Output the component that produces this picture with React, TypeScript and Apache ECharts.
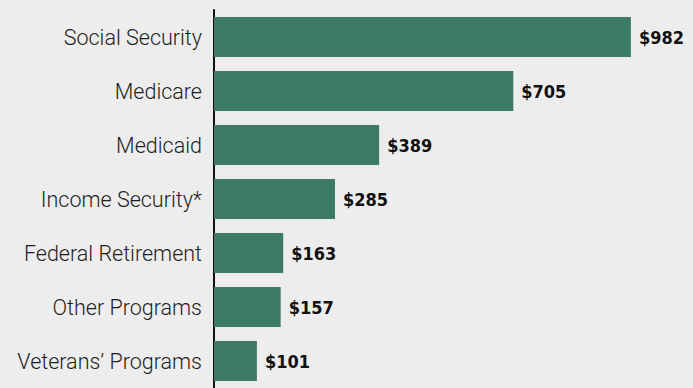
import React, { useEffect, useRef } from "react";
import * as echarts from "echarts";

const categories = [
  "Social Security",
  "Medicare",
  "Medicaid",
  "Income Security*",
  "Federal Retirement",
  "Other Programs",
  "Veterans’ Programs",
];
const values = [982, 705, 389, 285, 163, 157, 101];

export default function App() {
  const ref = useRef<HTMLDivElement>(null);
  useEffect(() => {
    if (!ref.current) return;
    const chart = echarts.init(ref.current, null, { renderer: "svg" });
    chart.setOption({
      animation: false,
      backgroundColor: "#ededed",
      grid: { left: 214, right: 12, top: 10, height: 381.5 },
      xAxis: {
        type: "value",
        min: 0,
        max: 1100,
        show: false,
        splitLine: { show: false },
      },
      yAxis: {
        type: "category",
        inverse: true,
        data: categories,
        axisLine: { show: true, lineStyle: { color: "#111", width: 2 } },
        axisTick: { show: false },
        axisLabel: {
          margin: 12,
          color: "#1e1e1e",
          fontFamily: "Roboto",
          fontSize: 21.5,
          fontWeight: 300,
        },
      },
      series: [
        {
          type: "bar",
          data: values,
          barCategoryGap: "26%",
          itemStyle: { color: "#3d7a63" },
          label: {
            show: true,
            position: "right",
            distance: 8,
            formatter: (p: any) => "$" + p.value,
            color: "#111",
            fontFamily: "'DejaVu Sans Condensed', sans-serif",
            fontWeight: "bold",
            fontSize: 18,
          },
        },
      ],
    });
    return () => chart.dispose();
  }, []);
  return (
    <div
      ref={ref}
      style={{ position: "absolute", left: 0, top: 0, width: 693, height: 388 }}
    />
  );
}
